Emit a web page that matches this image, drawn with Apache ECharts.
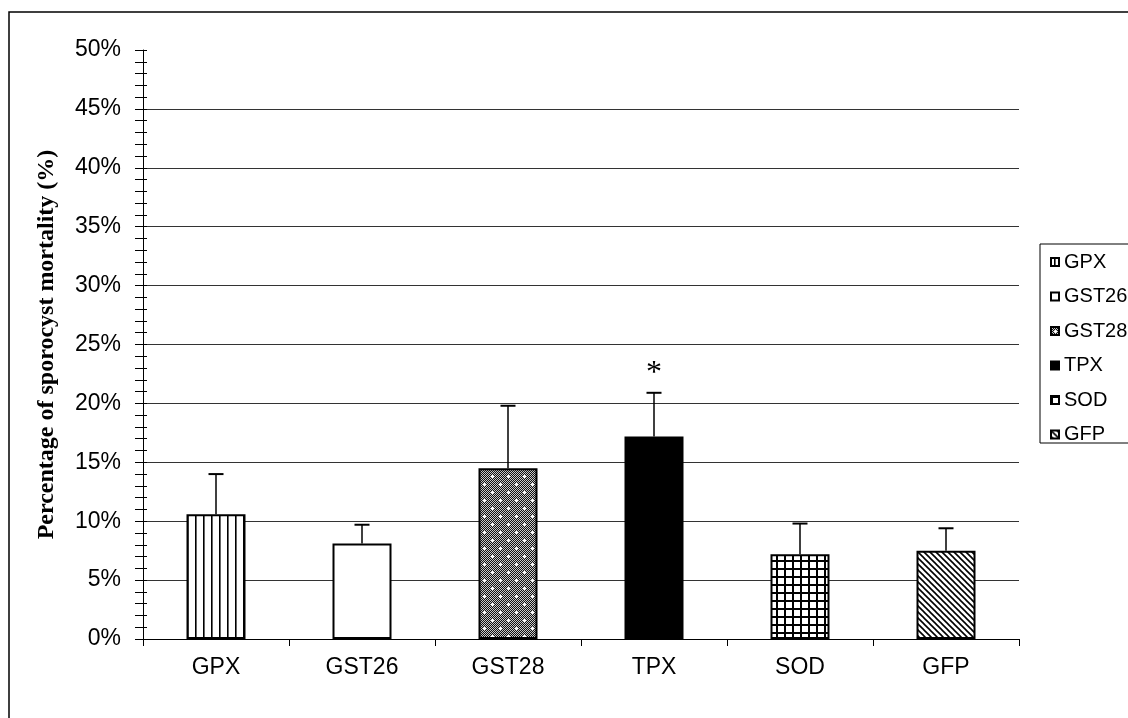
<!DOCTYPE html>
<html><head><meta charset="utf-8">
<script src="https://cdn.jsdelivr.net/npm/echarts@6/dist/echarts.min.js"></script>
<style>html,body{margin:0;padding:0;background:#fff}#c{width:1128px;height:718px}</style>
</head><body><div id="c"></div>
<script>
const categories = ['GPX', 'GST26', 'GST28', 'TPX', 'SOD', 'GFP'];
const means = [10.6, 8.1, 14.5, 17.2, 7.2, 7.5];
const upperErrors = [3.4, 1.6, 5.3, 3.7, 2.6, 1.9];
const significance = ['', '', '', '*', '', ''];
const patternKinds = ['vstripe', 'white', 'dots', 'black', 'grid', 'diag'];

function makePattern(kind) {
  const c = document.createElement('canvas');
  const ctx = c.getContext('2d');
  if (kind === 'vstripe') {
    c.width = 8; c.height = 8;
    ctx.fillStyle = '#fff'; ctx.fillRect(0, 0, 8, 8);
    ctx.fillStyle = '#000'; ctx.fillRect(3, 0, 1.6, 8);
  } else if (kind === 'dots') {
    c.width = 16; c.height = 16;
    for (let x = 0; x < 16; x++) for (let y = 0; y < 16; y++) {
      ctx.fillStyle = ((x + y) % 2) ? '#111' : '#c8c8c8';
      ctx.fillRect(x, y, 1, 1);
    }
    ctx.fillStyle = '#fff';
    [[4, 4], [12, 12]].forEach(([px, py]) => {
      ctx.fillRect(px - 1, py, 3, 1);
      ctx.fillRect(px, py - 1, 1, 3);
    });
  } else if (kind === 'grid') {
    c.width = 8; c.height = 8;
    ctx.fillStyle = '#fff'; ctx.fillRect(0, 0, 8, 8);
    ctx.fillStyle = '#000';
    ctx.fillRect(0, 0, 8, 2); ctx.fillRect(0, 0, 2, 8);
  } else if (kind === 'diag') {
    const s = 6;
    c.width = s; c.height = s;
    ctx.fillStyle = '#fff'; ctx.fillRect(0, 0, s, s);
    ctx.strokeStyle = '#000'; ctx.lineWidth = 1.6;
    for (let k = -1; k <= 1; k++) {
      ctx.beginPath();
      ctx.moveTo(k * s - 1, -1);
      ctx.lineTo(k * s + s + 1, s + 1);
      ctx.stroke();
    }
  }
  return c;
}
function fillFor(kind) {
  if (kind === 'white') return '#fff';
  if (kind === 'black') return '#000';
  return { image: makePattern(kind), repeat: 'repeat' };
}

const chart = echarts.init(document.getElementById('c'), null, { renderer: 'canvas' });
const barSeries = categories.map((name, i) => ({
  type: 'bar',
  name: name,
  data: categories.map((c, j) => (j === i ? means[i] : '-')),
  barWidth: 59,
  barGap: '-100%',
  itemStyle: { color: fillFor(patternKinds[i]), borderColor: '#000', borderWidth: 2 },
  emphasis: { disabled: true },
  z: 2
}));

const errorSeries = {
  type: 'custom',
  name: 'err',
  z: 5,
  data: categories.map((c, i) => [i, means[i], means[i] + upperErrors[i], significance[i]]),
  encode: { x: 0, y: [1, 2] },
  renderItem: function (params, api) {
    const i = api.value(0);
    const base = api.coord([i, api.value(1)]);
    const top = api.coord([i, api.value(2)]);
    const half = 7.5;
    const children = [
      { type: 'line', shape: { x1: base[0], y1: base[1], x2: top[0], y2: top[1] }, style: { stroke: '#000', lineWidth: 1.5 } },
      { type: 'line', shape: { x1: top[0] - half, y1: top[1], x2: top[0] + half, y2: top[1] }, style: { stroke: '#000', lineWidth: 2 } }
    ];
    const sig = significance[params.dataIndex];
    if (sig) {
      children.push({ type: 'text', style: { text: sig, x: top[0], y: top[1] - 3, align: 'center', verticalAlign: 'bottom', font: '32px "Liberation Serif"', fill: '#000' } });
    }
    return { type: 'group', children: children };
  }
};

const yBase = { type: 'value', min: 0, max: 50, interval: 5, position: 'left' };
chart.setOption({
  animation: false,
  backgroundColor: '#fff',
  textStyle: { fontFamily: 'Liberation Sans, Arial', color: '#000' },
  grid: { left: 143, right: 109, top: 50, bottom: 79, containLabel: false },
  graphic: [
    { type: 'rect', shape: { x: 9, y: 12, width: 1200, height: 800 }, style: { fill: 'none', stroke: '#000', lineWidth: 1.5 }, silent: true },
    { type: 'rect', shape: { x: 1040, y: 244, width: 200, height: 199 }, style: { fill: 'none', stroke: '#000', lineWidth: 1 }, silent: true }
  ],
  legend: {
    data: categories,
    orient: 'vertical',
    left: 1050, top: 252,
    padding: 0,
    itemWidth: 8, itemHeight: 8, itemGap: 14.5,
    icon: 'rect',
    textStyle: { fontSize: 20, fontFamily: 'Liberation Sans, Arial', color: '#000' },
    selectedMode: false
  },
  xAxis: {
    type: 'category',
    data: categories,
    axisLine: { lineStyle: { color: '#000', width: 1 } },
    axisTick: { show: true, length: 7, lineStyle: { color: '#000' } },
    axisLabel: { fontSize: 23, color: '#000', margin: 17, fontFamily: 'Liberation Sans, Arial' },
    splitLine: { show: false }
  },
  yAxis: [
    Object.assign({}, yBase, {
      name: 'Percentage of sporocyst mortality (%)',
      nameLocation: 'middle',
      nameGap: 84,
      nameTextStyle: { fontFamily: 'Liberation Serif, Times New Roman', fontWeight: 'bold', fontSize: 24, color: '#000' },
      axisLine: { show: true, lineStyle: { color: '#000', width: 1 } },
      axisTick: { show: true, length: 8, lineStyle: { color: '#000' } },
      minorTick: { show: true, splitNumber: 5, length: 8, lineStyle: { color: '#000' } },
      axisLabel: { fontSize: 23, color: '#000', margin: 22, formatter: '{value}%', fontFamily: 'Liberation Sans, Arial' },
      splitLine: { show: true, showMinLine: false, showMaxLine: false, lineStyle: { color: '#333', width: 1 } }
    }),
    Object.assign({}, yBase, {
      axisLine: { show: false },
      axisTick: { show: true, inside: true, length: 4, lineStyle: { color: '#000' } },
      minorTick: { show: true, splitNumber: 5, length: 4, lineStyle: { color: '#000' } },
      axisLabel: { show: false },
      splitLine: { show: false }
    })
  ],
  series: barSeries.concat([errorSeries])
});
</script>
</body></html>
